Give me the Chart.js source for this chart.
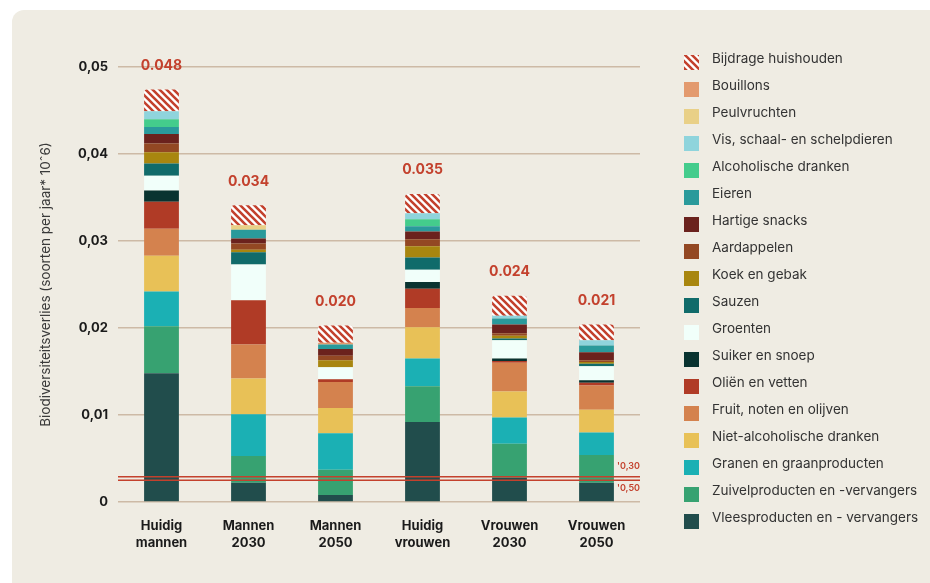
<!DOCTYPE html>
<html>
<head>
<meta charset="utf-8">
<script src="https://cdn.jsdelivr.net/npm/chart.js@4"></script>
<style>
  html, body { margin: 0; padding: 0; background: #fff; }
  #panel {
    position: absolute; left: 12px; top: 10px; width: 918px; height: 573px;
    background: #efece3; border-top-left-radius: 12px;
  }
  #wrap { position: absolute; left: 0; top: 0; width: 930px; height: 583px; }
</style>
</head>
<body>
<div id="panel"></div>
<div id="wrap"><canvas id="chart" width="930" height="583"></canvas></div>
<script>
// Categories (x axis)
const groups = [
  ['Huidig', 'mannen'],
  ['Mannen', '2030'],
  ['Mannen', '2050'],
  ['Huidig', 'vrouwen'],
  ['Vrouwen', '2030'],
  ['Vrouwen', '2050']
]

// Series values, bottom of the stack first
const vlees = [0.0148, 0.0022, 0.0008, 0.0092, 0.0028, 0.0022]
const zuivel = [0.0054, 0.0031, 0.0029, 0.0041, 0.0039, 0.0032]
const granen = [0.0040, 0.0048, 0.0042, 0.0032, 0.0030, 0.0026]
const nietAlcohol = [0.0041, 0.0041, 0.0029, 0.0036, 0.0030, 0.0026]
const fruit = [0.0031, 0.0039, 0.0030, 0.0022, 0.0033, 0.0028]
const olien = [0.0031, 0.0051, 0.0003, 0.0022, 0.0002, 0.0003]
const suiker = [0.0013, 0, 0, 0.0008, 0.0003, 0.0003]
const groenten = [0.0017, 0.0041, 0.0014, 0.0014, 0.0021, 0.0016]
const sauzen = [0.0014, 0.0014, 0, 0.0014, 0.0002, 0.0003]
const koek = [0.0013, 0.0003, 0.0008, 0.0013, 0.0003, 0.0002]
const aardappelen = [0.0010, 0.0007, 0.0005, 0.0008, 0.0003, 0.0002]
const hartig = [0.0011, 0.0006, 0.0008, 0.0009, 0.0010, 0.0009]
const eieren = [0.0008, 0.0010, 0.0005, 0.0006, 0.0007, 0.0008]
const alcohol = [0.0009, 0, 0, 0.0008, 0, 0]
const vis = [0.0009, 0, 0, 0.0007, 0.0003, 0.0006]
const peulvruchten = [0, 0.0005, 0, 0, 0, 0]
const bouillons = [0, 0, 0.0002, 0, 0, 0]
const huishouden = [0.0025, 0.0023, 0.0020, 0.0022, 0.0023, 0.0018]

// Totals printed above the bars
const totals = [0.048, 0.034, 0.020, 0.035, 0.024, 0.021]

// Boundary lines and their labels
const boundaryValues = [0.0029, 0.0025]
const boundaryLabels = ["'0,30", "'0,50"]

// Y axis ticks
const yTicks = [0, 0.01, 0.02, 0.03, 0.04, 0.05]

const RED = '#c3412d'
const FONT = 'Inter, "Noto Sans", sans-serif'

// Diagonal hatch for "Bijdrage huishouden"
function makeHatch() {
  const c = document.createElement('canvas')
  c.width = 7
  c.height = 7
  const g = c.getContext('2d')
  g.fillStyle = '#ffffff'
  g.fillRect(0, 0, 7, 7)
  g.strokeStyle = RED
  g.lineWidth = 2.6
  g.beginPath()
  ;[-7, 0, 7].forEach(o => {
    g.moveTo(o - 1, -1)
    g.lineTo(o + 8, 8)
  })
  g.stroke()
  return g.createPattern(c, 'repeat')
}

const series = [
  ['Vleesproducten en - vervangers', vlees, '#214d4c'],
  ['Zuivelproducten en -vervangers', zuivel, '#37a271'],
  ['Granen en graanproducten', granen, '#1bb0b4'],
  ['Niet-alcoholische dranken', nietAlcohol, '#e8c157'],
  ['Fruit, noten en olijven', fruit, '#d4824e'],
  ['Oliën en vetten', olien, '#b03b26'],
  ['Suiker en snoep', suiker, '#093330'],
  ['Groenten', groenten, '#f1fffa'],
  ['Sauzen', sauzen, '#106b6a'],
  ['Koek en gebak', koek, '#a8860f'],
  ['Aardappelen', aardappelen, '#934823'],
  ['Hartige snacks', hartig, '#6b221d'],
  ['Eieren', eieren, '#2a9a9b'],
  ['Alcoholische dranken', alcohol, '#44cc8c'],
  ['Vis, schaal- en schelpdieren', vis, '#8fd4dc'],
  ['Peulvruchten', peulvruchten, '#e9d087'],
  ['Bouillons', bouillons, '#e39a6e'],
  ['Bijdrage huishouden', huishouden, makeHatch()]
]

const datasets = series.map(([label, data, color], i) => ({
  label: label,
  data: data,
  backgroundColor: color,
  borderWidth: 0,
  borderRadius: i === series.length - 1 ? 3 : 0,
  barPercentage: 0.4,
  categoryPercentage: 1
}))

// Extra drawing: boundary lines, totals, legend
const extras = {
  id: 'extras',
  afterDatasetsDraw(chart) {
    const ctx = chart.ctx
    const x = chart.scales.x
    const y = chart.scales.y
    const area = chart.chartArea
    ctx.save()

    // boundary lines over the bars
    ctx.strokeStyle = RED
    ctx.lineWidth = 1.5
    boundaryValues.forEach(v => {
      const py = y.getPixelForValue(v)
      ctx.beginPath()
      ctx.moveTo(area.left, py)
      ctx.lineTo(area.right, py)
      ctx.stroke()
    })
    ctx.fillStyle = RED
    ctx.font = '600 9px ' + FONT
    ctx.textAlign = 'right'
    ctx.textBaseline = 'middle'
    ctx.fillText(boundaryLabels[0], area.right, y.getPixelForValue(boundaryValues[0]) - 10)
    ctx.fillText(boundaryLabels[1], area.right, y.getPixelForValue(boundaryValues[1]) + 8)

    // totals on top of the stacks
    ctx.font = 'bold 14px ' + FONT
    ctx.textAlign = 'center'
    totals.forEach((t, i) => {
      const sum = chart.data.datasets.reduce((acc, ds) => acc + ds.data[i], 0)
      ctx.fillText(t.toFixed(3), x.getPixelForValue(i), y.getPixelForValue(sum) - 24)
    })
    ctx.restore()
  },
  afterDraw(chart) {
    const ctx = chart.ctx
    ctx.save()
    ctx.font = '13.5px ' + FONT
    ctx.textAlign = 'left'
    ctx.textBaseline = 'middle'
    const items = chart.data.datasets.slice().reverse()
    items.forEach((ds, k) => {
      const top = 55 + k * 27
      ctx.fillStyle = ds.backgroundColor
      ctx.fillRect(684, top, 15, 15)
      ctx.fillStyle = '#333333'
      ctx.fillText(ds.label, 712, top + 4)
    })
    ctx.restore()
  }
}

const ctx = document.getElementById('chart').getContext('2d')
window.myChart = new Chart(ctx, {
  type: 'bar',
  data: {
    labels: groups,
    datasets: datasets
  },
  options: {
    responsive: false,
    animation: false,
    layout: {
      padding: { left: 12, right: 290, top: 67, bottom: 21 }
    },
    plugins: {
      legend: { display: false },
      tooltip: { enabled: false }
    },
    scales: {
      x: {
        stacked: true,
        grid: { display: false },
        border: { display: false },
        ticks: {
          color: '#1b1b1b',
          padding: 8,
          maxRotation: 0,
          font: { family: FONT, size: 13, weight: 'bold', lineHeight: 1.3 }
        },
        afterFit: s => { s.height = 60 }
      },
      y: {
        stacked: true,
        min: 0,
        max: 0.05,
        afterBuildTicks: s => { s.ticks = yTicks.map(v => ({ value: v })) },
        grid: { color: '#cdbaa6', lineWidth: 1.5, drawTicks: false },
        border: { display: false },
        ticks: {
          color: '#1b1b1b',
          padding: 10,
          font: { family: FONT, size: 13, weight: 'bold' },
          callback: v => (v === 0 ? '0' : v.toFixed(2).replace('.', ','))
        },
        title: {
          display: true,
          text: 'Biodiversiteitsverlies (soorten per jaar* 10ˆ6)',
          color: '#3a3a3a',
          padding: { top: 26, bottom: 0 },
          font: { family: FONT, size: 13.5 }
        },
        afterFit: s => { s.width = 106 }
      }
    }
  },
  plugins: [extras]
})
</script>
</body>
</html>
